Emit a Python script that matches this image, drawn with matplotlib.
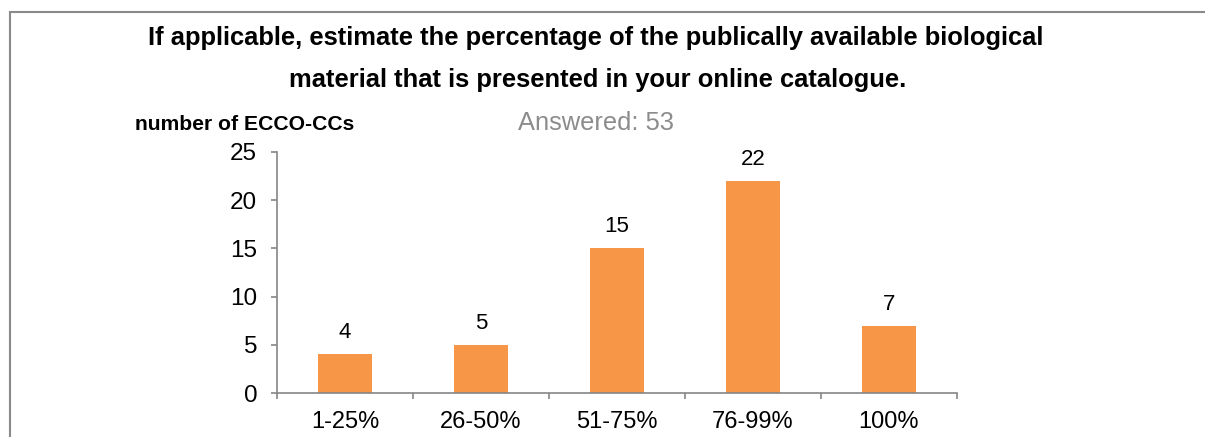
import matplotlib
matplotlib.use("Agg")
import matplotlib.pyplot as plt
from matplotlib.lines import Line2D

plt.rcParams["font.family"] = ["Liberation Sans", "DejaVu Sans"]

categories = ["1-25%", "26-50%", "51-75%", "76-99%", "100%"]
counts = [4, 5, 15, 22, 7]
y_ticks = [0, 5, 10, 15, 20, 25]

title_lines = ["If applicable, estimate the percentage of the publically available biological",
               "material that is presented in your online catalogue."]
answered = "Answered: 53"
y_label = "number of ECCO-CCs"

bar_color = "#F79646"
axis_color = "#868686"

W, H = 1205, 437
fig = plt.figure(figsize=(W / 100, H / 100), dpi=100)
fig.patch.set_facecolor("white")

# plot area in pixel terms: x 277..957, y 152..393
ax = fig.add_axes([277 / W, 1 - 393 / H, (957 - 277) / W, (393 - 152) / H])

xs = list(range(len(categories)))
ax.bar(xs, counts, width=0.4, color=bar_color, zorder=2)
for x, c in zip(xs, counts):
    ax.annotate(str(c), (x, c), xytext=(0, 11.5), textcoords="offset points",
                ha="center", va="baseline", fontsize=16)

ax.set_xlim(-0.5, len(categories) - 0.5)
ax.set_ylim(0, 25)
ax.set_yticks(y_ticks)
ax.tick_params(axis="y", labelsize=17.5, length=4.3, color=axis_color, width=1.2, pad=10)

# category labels sit between boundary ticks
ax.set_xticks([i - 0.5 for i in range(len(categories) + 1)])
ax.set_xticklabels([])
ax.set_xticks(xs, minor=True)
ax.set_xticklabels(categories, minor=True)
ax.tick_params(axis="x", which="major", length=4.3, color=axis_color, width=1.2)
ax.tick_params(axis="x", which="minor", length=0, labelsize=17, pad=13)

for side in ["top", "right"]:
    ax.spines[side].set_visible(False)
for side in ["left", "bottom"]:
    ax.spines[side].set_color(axis_color)
    ax.spines[side].set_linewidth(1.2)

fig.text(596 / W, 1 - 45 / H, title_lines[0], ha="center", va="baseline",
         fontsize=18.4, fontweight="bold")
fig.text(598 / W, 1 - 87 / H, title_lines[1], ha="center", va="baseline",
         fontsize=18.4, fontweight="bold")
fig.text(135 / W, 1 - 130 / H, y_label, ha="left", va="baseline",
         fontsize=15.2, fontweight="bold")
fig.text(596 / W, 1 - 130 / H, answered, ha="center", va="baseline",
         fontsize=18.4, color="#8C8C8C")

# frame around the chart (left and top edges)
frame = dict(color="#8A8A8A", linewidth=1.5, transform=fig.transFigure)
fig.add_artist(Line2D([9.5 / W, 9.5 / W], [0, 1 - 11.5 / H], **frame))
fig.add_artist(Line2D([9.5 / W, 1], [1 - 11.5 / H, 1 - 11.5 / H], **frame))

fig.savefig("out.png", dpi=100)
